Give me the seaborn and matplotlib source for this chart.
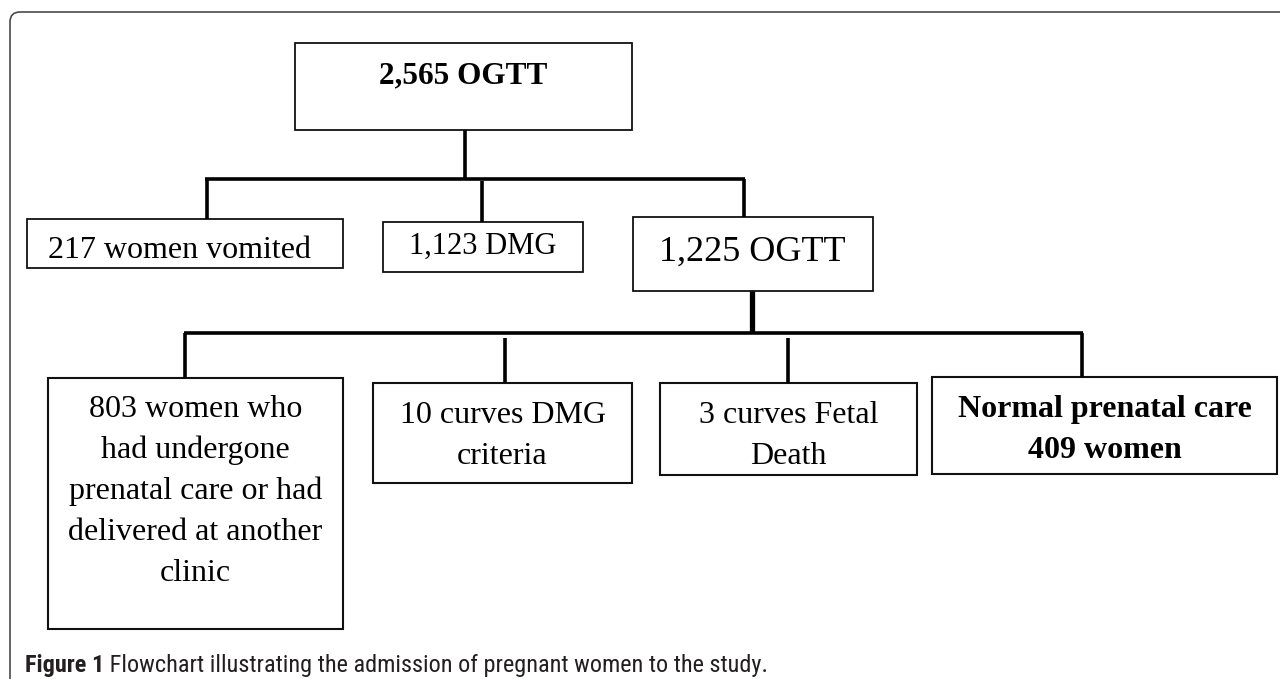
import matplotlib
matplotlib.use("Agg")
import matplotlib.pyplot as plt
import seaborn as sns
from matplotlib import font_manager
from matplotlib.patches import Rectangle, FancyBboxPatch

# flowchart content
top_label = "2,565 OGTT"
level1_labels = ["217 women vomited", "1,123 DMG", "1,225 OGTT"]
level2_labels = [
    ["803 women who", "had undergone", "prenatal care or had", "delivered at another", "clinic"],
    ["10 curves DMG", "criteria"],
    ["3 curves Fetal", "Death"],
    ["Normal prenatal care", "409 women"],
]
caption_bold = "Figure 1"
caption_text = " Flowchart illustrating the admission of pregnant women to the study."

# layout in pixels (x0, y0, x1, y1), y downwards
top_box = (295, 43, 632, 130)
level1_boxes = [(27, 219, 343, 268), (383, 222, 583, 272), (633, 217, 873, 291)]
level2_boxes = [(48, 378, 343, 629), (373, 383, 632, 483), (660, 383, 917, 475), (932, 377, 1277, 474)]

sns.set_theme(style="white")
serif = "Liberation Serif"
names = {f.name for f in font_manager.fontManager.ttflist}
cap_font = "Roboto"
for cand in ["Roboto Condensed", "Liberation Sans Narrow", "Open Sans Condensed"]:
    if cand in names:
        cap_font = cand
        break

fig = plt.figure(figsize=(12.8, 6.79), dpi=100)
ax = fig.add_axes([0, 0, 1, 1])
ax.set_xlim(0, 1280)
ax.set_ylim(679, 0)
ax.axis("off")

# outer frame with rounded corner
frame = FancyBboxPatch((10, 12), 1320, 720, boxstyle="round,pad=0,rounding_size=10",
                       fill=False, ec="#4a4a4a", lw=1.2)
ax.add_patch(frame)


def box(b, lw=1.3):
    x0, y0, x1, y1 = b
    ax.add_patch(Rectangle((x0, y0), x1 - x0, y1 - y0, fill=False, ec="#111111", lw=lw))


def line(xs, ys, lw=2.6):
    ax.plot(xs, ys, color="black", lw=lw, solid_capstyle="butt")


# boxes
box(top_box)
for b in level1_boxes:
    box(b)
for b in level2_boxes:
    box(b, lw=1.5)

# connectors
line([465, 465], [130, 179])
line([205, 745], [179, 179])
line([207, 207], [179, 219])
line([482, 482], [181, 222])
line([744, 744], [179, 217])
line([752, 752], [291, 333], lw=3.8)
line([184, 1083], [333, 333])
line([185, 185], [333, 378])
line([505, 505], [338, 383])
line([788, 788], [338, 383])
line([1082, 1082], [333, 377])

# texts
ax.text(463, 83, top_label, ha="center", va="baseline", fontsize=22.5,
        fontweight="bold", family=serif, color="black")
ax.text(48, 258, level1_labels[0], ha="left", va="baseline", fontsize=23, family=serif, color="black")
ax.text(483, 254, level1_labels[1], ha="center", va="baseline", fontsize=22, family=serif, color="black")
ax.text(752, 261, level1_labels[2], ha="center", va="baseline", fontsize=26, family=serif, color="black")

first_base = [417, 423, 423, 417]
for i, lines in enumerate(level2_labels):
    x0, y0, x1, y1 = level2_boxes[i]
    cx = (x0 + x1) / 2
    weight = "bold" if i == 3 else "normal"
    for j, s in enumerate(lines):
        ax.text(cx, first_base[i] + j * 41, s, ha="center", va="baseline", fontsize=23,
                fontweight=weight, family=serif, color="black")

# caption, sized to span the same width as in the figure
cap_size = 16
t1 = ax.text(25, 672, caption_bold, ha="left", va="baseline", fontsize=cap_size,
             fontweight="bold", family=cap_font, color="#231f20")
fig.canvas.draw()
renderer = fig.canvas.get_renderer()
inv = ax.transData.inverted()
x_end = inv.transform((t1.get_window_extent(renderer=renderer).x1, 0))[0]
t2 = ax.text(x_end, 672, caption_text, ha="left", va="baseline", fontsize=cap_size,
             family=cap_font, color="#231f20")
fig.canvas.draw()
right = inv.transform((t2.get_window_extent(renderer=renderer).x1, 0))[0]
scale = (769 - 25) / (right - 25)
cap_size = cap_size * scale
t1.set_fontsize(cap_size)
fig.canvas.draw()
x_end = inv.transform((t1.get_window_extent(renderer=renderer).x1, 0))[0]
t2.set_fontsize(cap_size)
t2.set_x(x_end)

fig.savefig("out.png", dpi=100, facecolor="white")
